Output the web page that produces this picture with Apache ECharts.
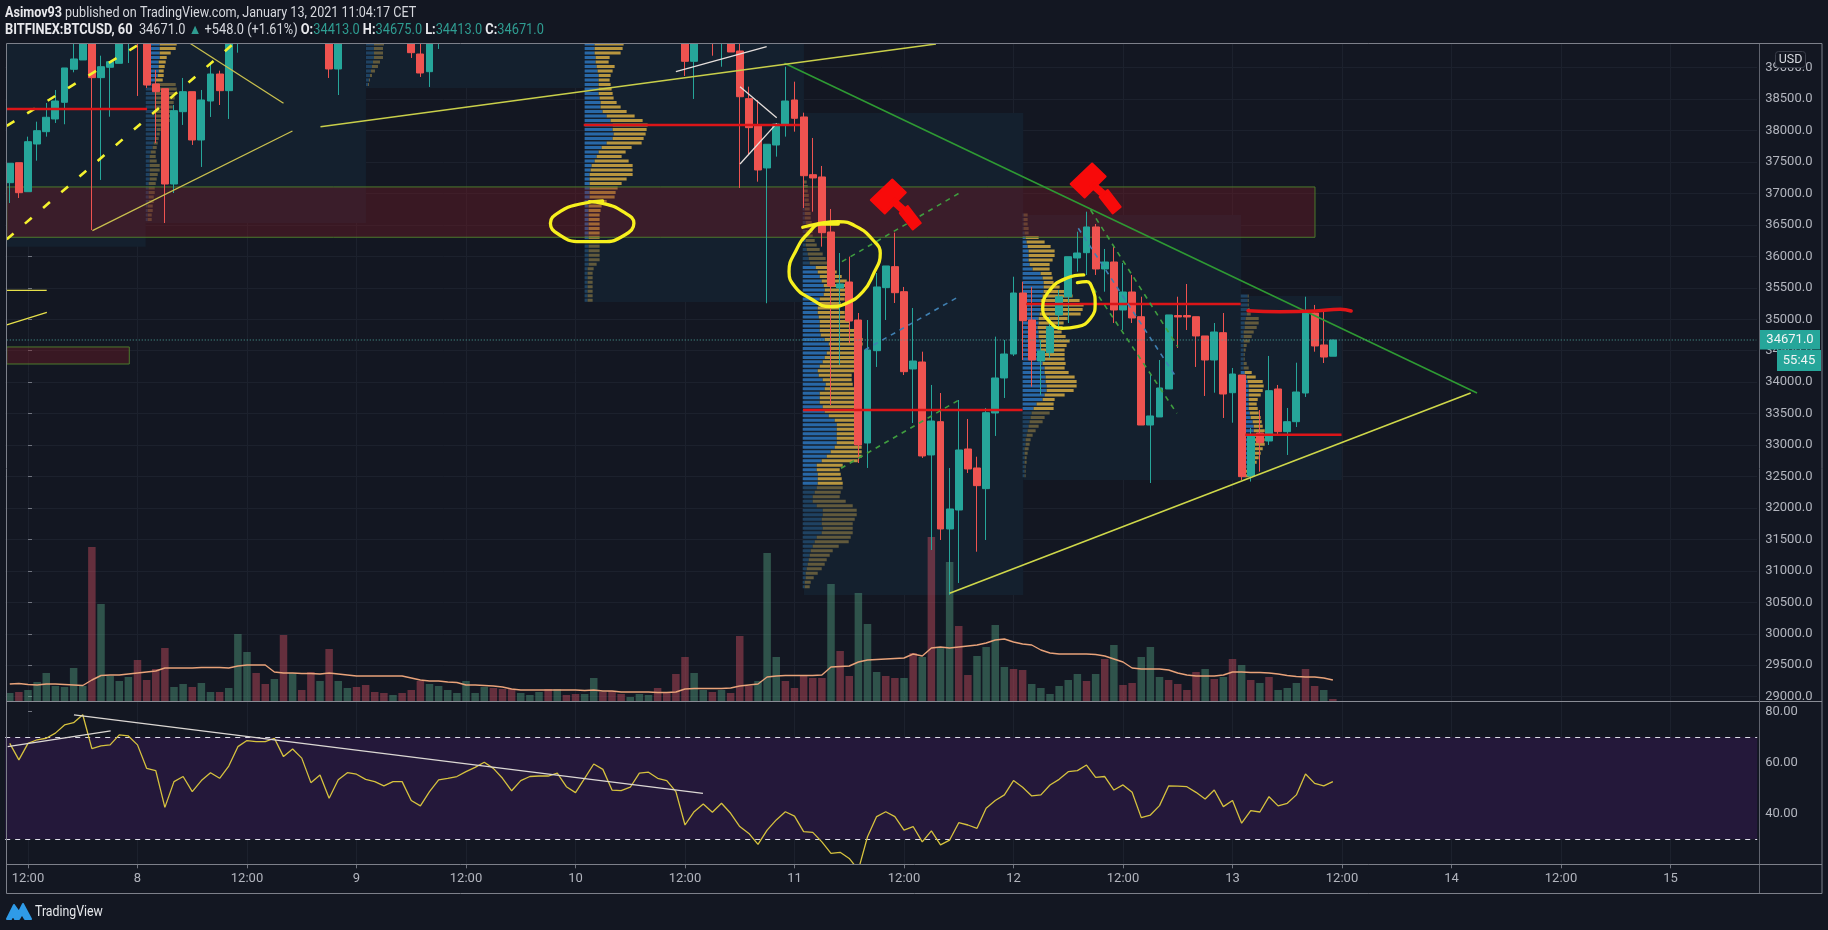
<!DOCTYPE html>
<html><head><meta charset="utf-8">
<style>html,body{margin:0;padding:0;background:#131722}#c{width:1828px;height:930px}</style>
<script src="https://cdn.jsdelivr.net/npm/echarts@6/dist/echarts.min.js"></script>
</head><body><div id="c"></div>
<script>
// ---- data ----
const firstHour = -2;           // hours relative to 7 Jan 12:00
const candles = [ // [open, close, low, high]
[37172,37481,36849,37481],[37490,37013,36929,37490],[37029,37824,37029,37904],[37787,37999,37522,38142],[37983,38212,37904,38439],[38185,38471,38121,38646],[38450,38996,38101,38996],[38975,39139,38927,39400],[39123,39600,39123,39700],[39600,38842,36420,39700],
[38842,39016,37215,39191],[39007,39096,38221,39096],[39070,39500,39070,39600],[39500,39900,39075,40000],[40100,39800,38551,40200],[39800,38725,38678,39900],[38741,38619,37803,38964],[38667,37151,36531,38667],[37151,38317,37008,38407],[38301,38619,38090,38837],
[38619,37851,37772,38619],[37851,38487,37422,38646],[38471,38900,38217,39075],[38900,38635,38407,38953],[38635,39500,38185,39600],[39500,39900,39239,40000],
[39520,39880,39430,39980],[39880,39700,39480,39960],[39700,39560,39440,39780],[39560,39790,39470,39860],[39790,39520,39440,39900],[39520,39750,39460,39810],[39750,39610,39500,39800],[39610,39480,39420,39700],[39480,39700,39430,39760],
[39700,38980,38837,39900],[38980,39600,38566,39800],
[39600,39900,39500,40000],[39900,39760,39600,40050],[39760,39600,39520,39850],[39600,39530,39450,39700],[39530,39720,39460,39800],[39720,39610,39500,39780],[39610,39800,39560,39880],
[39800,39239,39155,39900],[39218,38916,38853,39400],[38937,39500,38694,39600],[39500,39700,39298,39800],
[39700,39850,39600,39950],[39850,39980,39700,40060],[39980,40200,39880,40300],[40200,40120,39950,40350],[40120,40300,40030,40400],[40300,40180,40050,40420],[40180,40050,39900,40250],[40050,39920,39800,40150],[39920,40010,39830,40100],[40010,40080,39900,40180],[40080,40160,39980,40240],[40160,40060,39950,40220],[40060,40150,39960,40230],[40150,40020,39880,40200],[40020,39900,39780,40100],[39900,40050,39800,40120],[40050,40260,39960,40340],[40260,40160,40050,40320],[40160,40040,39900,40220],[40040,39950,39850,40120],[39950,40030,39870,40110],[40030,40090,39950,40170],[40090,40140,39990,40210],[40140,40020,39900,40200],[40020,39900,39780,40080],[39900,39620,39480,39980],
[39620,39102,38869,39700],[39102,39600,38503,39700],[39600,39800,39450,39900],[39800,39500,39191,39850],[39500,39650,39016,39700],[39650,39250,39250,39700],
[39266,38539,37088,39385],[38508,38047,37612,38699],[38089,37374,37188,38487],[37406,37783,35255,37783],[37771,38105,37586,38105],[38101,38471,37904,39016],[38487,38196,37983,38778],[38217,37283,36770,38285],[37299,37247,36711,37883],[37263,36377,36155,37438],
[36388,35530,33637,36754],[35498,35561,34273,36054],[35593,34973,34623,35996],[34989,33002,32715,35100],[33033,34512,32636,34989],[34501,35514,34242,35736],[35503,35848,34989,35848],[35837,35423,35259,36377],[35439,34167,34114,35514],[34210,34337,33351,35180],
[34321,32827,32795,34485],[32843,33383,31332,33956],[33372,31666,31491,33828],[31666,31984,30617,32636],[31968,32922,30807,33717],[32938,32620,32556,33415],[32636,32355,31305,32815],[32307,33515,31491,33590],[33510,34067,33145,34724],[34067,34448,33749,34671],
[34448,35418,34417,35677],[35418,34978,34353,35598],[34989,34353,33928,35514],[34337,34496,33796,34671],[34469,34882,34385,35041],[35069,35359,34830,35466],[35359,35995,34941,35995],[35975,36054,35757,36393],[36059,36468,35705,36711],[36468,35800,35705,36515],
[35800,35911,35439,36118],[35911,35148,34941,36155],[35148,35434,34830,35895],[35434,35021,34941,35705],[35041,33319,33319,35359],[33319,33463,32397,34114],[33447,33908,33447,34353],[33892,35069,33892,35069],[35060,35037,34544,35359],[35060,35037,34830,35561],
[35041,34735,34242,35041],[34735,34353,33781,34735],[34353,34798,33833,34941],[34787,33812,33431,35100],[33833,34130,33356,34226],[34114,32498,32445,34114],[32509,33149,32420,33272],[33192,33038,32577,33558],[33065,33865,33002,34417],[33892,33213,33160,33956],
[33213,33372,32843,33590],[33372,33844,33288,34310],[33828,35111,33765,35359],[35100,34576,34485,35228],[34592,34400,34305,35121],[34413,34671,34413,34675]];
const volumes = [8,9,11,19,28,15,14,33,15,154,97,25,20,24,41,21,32,53,14,17,14,18,9,9,13,67,49,28,17,22,66,28,11,29,20,52,20,13,14,16,9,8,6,8,11,20,17,15,11,8,20,8,14,13,12,12,8,6,9,12,12,6,7,7,23,9,10,7,4,7,6,13,9,27,44,28,11,9,11,8,65,15,20,148,44,20,13,
25,23,23,117,50,25,108,77,29,25,23,23,48,44,164,54,139,75,26,45,54,76,34,32,31,17,13,7,15,21,27,20,27,42,56,16,18,44,54,24,21,17,11,29,32,22,24,42,36,21,18,24,11,13,18,32,15,11,2];
const volumeDir = ('uduuuuuuu'+'duuuu'+'dddd'+'uu'+'d'+'uu'+'d'+'uuu'+'dd'+'u'+'d'+'u'+'dd'+'u'+'d'+'uu'+'dddd'+'u'+'ddd'+'uuuuuuu'+'ddd'+'uuu'+'d'+'u'+'dd'+'uu'+'ddd'+'uuu'+'dddd'+'uu'+'d'+'u'+'ddd'+'uuu'+'d'
  +'dddd'+'u'+'dd'+'uuu'+'dd'+'u'+'d'+'u'+'d'+'uu'+'dd'+'uuuu'+'dd'+'uuuuuu'+'d'+'u'+'d'+'u'+'dd'+'uuu'+'dddd'+'u'+'d'+'u'+'d'+'u'+'d'+'u'+'d'+'uuu'+'dd'+'u').split('');
const volumeMA = [17,17.5,16.5,16,17,17,16.5,16,15.5,21,25.5,26,26,27,28,29,30,33,33,33,33,33.5,33.5,33.5,33,35,36,36,36,29,28,28,27.5,27.5,27,28,27,26,25,25,25,25,25,25,23,21,20,20,19,18.5,16,16,15.5,15,14,12,11,11,11,11,11,11,11,10.5,11,10,10,9,9,9,9,8.5,8.5,9,12,12.5,12.5,12.5,12.5,13,15,16,17,24,25,25.5,25.5,
25.5,25.5,26,34,34.5,35,39,41,41.5,42,42.5,43,47,45,53,54,53,54,55,56,58,61,62,59,57,56,51,48,47,47,47,47,46.5,45,42,39,33,32,32,32,31,28,26,25,25,25,26,29,29,28.5,28.5,28,27,25.5,24.5,24,24,23,21];
const rsi = [67.6,61.1,67.6,69,69.6,71.6,74.8,75.7,78.8,65.5,66.6,67,70.9,70.5,67,57.8,56.9,42.5,52.6,54.6,48.7,53,56.1,53.9,58.7,66.3,68.7,68.3,68.3,69.6,62.4,65.4,61.8,52.2,55.2,46.1,53.3,56.1,55.5,53.5,52.6,50.9,52.6,52.6,45.2,43.1,48.7,53.3,53.9,54.6,56.5,58.2,60.2,57.8,53.9,49,53,54.6,54.8,54.8,55.9,50.6,48.3,53.9,59.5,57.4,49.3,49.1,50.4,55.9,56.3,53.9,53,48.7,35.6,40.8,43.8,40.6,44.1,40.2,35,32.3,28,33.6,37.6,40.8,39.1,
33,32.7,29,24.5,24.9,22.5,18,31,38.9,40.8,38.9,33.6,35,29,33.3,27.8,29.7,36.5,35.6,34.3,42.2,45.2,47.4,53,50.4,47,47.4,51.3,53.5,56.5,56.9,59.1,54.3,54.6,49.3,51.3,48.4,38.5,39.5,43.2,50.9,50.8,50.6,48.4,45.8,49.3,42.8,45.2,36.3,41.2,40.7,46.7,43.1,44.1,47.4,55.6,51.9,50.9,52.6];
const priceTicks = [29000,29500,30000,30500,31000,31500,32000,32500,33000,33500,34000,34500,35000,35500,36000,36500,37000,37500,38000,38500,39000];
const rsiTicks = [40,60,80];
const timeLabels = ['12:00','8','12:00','9','12:00','10','12:00','11','12:00','12','12:00','13','12:00','14','12:00','15'];

// volume profiles: row volumes, top row first
const profileRowStep = 71.5;
const profA = {t:12.9, top:39377, bright:[0,8],
 up:[14,14,14,14,13,13,13,12,10,9,9,9,9,9,9,9,9,10,10,11,11,10,8,7,5,4,4,4,4,4,4,3,3,3,3,3,2,2,2,2],
 total:[31,30,25,21,20,19,18,18,17,30,31,30,29,28,27,26,25,24,20,15,14,13,12,11,10,10,11,14,14,12,11,10,9,9,8,8,7,7,6,6]};
const profS = {t:37.04, top:39377, bright:[-1,-1],
 up:[8,8,8,8,7,6,5,4,3,2], total:[18,17,17,17,14,12,9,6,4,3]};
const profB = {t:61, top:39377, bright:[0,43],
 up:[10,10,10,11,11,12,13,14,14,14,14,14,15,16,16,18,22,26,28,28,29,28,22,17,14,12,10,7,6,5,5,5,5,5,5,5,4,4,4,4,4,4,4,4,4,4,4,4,4,4,3,3,3,3,3,3,3,3],
 total:[39,38,36,25,24,30,28,26,25,26,27,28,29,32,36,42,50,58,63,62,61,59,57,47,41,37,44,48,48,48,42,37,33,31,30,22,17,16,15,15,15,15,15,15,15,15,15,15,15,12,9,8,8,8,8,8,8,8]};
const profC = {t:84.9, top:37183, bright:[19,67],
 up:[1,1,1,1,2,2,2,2,2,3,3,3,3,3,3,4,5,6,7,13,15,17,19,21,22,21,17,15,15,15,16,17,17,17,18,22,26,27,24,22,20,17,15,16,20,23,22,17,17,17,20,22,26,32,34,34,34,34,34,32,28,24,19,14,14,15,15,15,14,12,10,10,14,20,20,19,19,20,19,14,12,10,8,7,6,5,4,3,3,2,2],
 total:[4,5,5,6,6,7,7,8,8,9,9,10,10,12,14,17,20,23,27,31,34,39,44,46,47,46,42,38,37,42,47,47,47,52,57,60,60,59,57,57,54,53,52,49,49,50,52,52,52,52,52,52,52,54,55,56,58,59,59,59,59,59,55,40,37,38,39,40,40,38,37,43,50,54,54,52,50,50,50,48,46,36,30,27,24,22,19,15,11,8,7]};
const profD = {t:109, top:36658, bright:[5,43],
 up:[1,1,1,1,2,3,4,5,6,6,6,7,10,18,20,21,21,21,20,18,18,18,17,16,16,15,16,16,17,17,18,18,18,20,22,22,23,23,24,24,22,20,14,11,9,8,7,6,5,4,3,3,2,2,2,2,2,2,2],
 total:[5,5,5,6,6,16,22,28,32,32,30,27,27,29,30,31,37,44,50,57,61,60,58,45,41,40,39,43,47,44,42,42,42,43,42,46,52,54,54,51,42,32,31,31,27,22,20,16,13,10,8,7,6,5,4,4,3,3,3]};
const profE = {t:132.9, top:35371, bright:[17,40],
 up:[7,7,7,7,6,5,4,4,3,3,3,3,3,3,3,3,3,4,6,7,8,8,8,8,8,8,9,10,12,13,13,13,12,11,10,9,8,7,6,5,4],
 total:[8,8,8,9,10,18,18,16,13,11,9,6,5,4,4,6,8,11,15,22,23,22,20,17,16,17,18,20,21,22,24,24,24,24,22,20,18,16,14,11,9]};
const profiles = [profA,profS,profB,profC,profD,profE];
const volumePerHour = 9.125;

// background boxes: [fromHour,toHour,topPrice,bottomPrice]
const profileBoxes = [[-2.33,12.9,39385,36154],[12.9,37.04,39385,36531],[37.04,61,39385,38678],[61,85.04,39385,35275],[85.04,109.07,38280,30616],[109.07,132.95,36658,32445],[132.95,143.98,35371,32445]];
const zones = [[-2.33,141.04,37104,36304],[-2.33,11.1,34560,34289]];

// drawn lines: [hour, price]
const greenTrend = [[82.9,39070],[158.8,33828]];
const yellowTrendLow = [[101,30644],[158.1,33828]];
const yellowTop = [[32.05,38063],[99.5,39377]];
const yellowRise = [[7.06,36409],[28.98,37994]];
const yellowFall = [[17.75,39388],[28,38434]];
const yellowStubFlat = [[-2.33,35460],[2.05,35460]];
const yellowStubRise = [[-2.33,34910],[2.07,35110]];
const yellowDashA = [[-2.33,38074],[12.34,39388]];
const yellowDashB = [[-2.33,36272],[22.36,39361]];
const whiteTop = [[71,38937],[80.95,39334]];
const whiteFall = [[78.03,38699],[82.05,38206]];
const whiteRise = [[78.03,37469],[82.05,38116]];
const redLines = [
 [[-2.33,38344],[13.05,38344]],[[60.9,38090],[84.6,38090]],[[84.93,33558],[108.99,33558]],
 [[109.4,35243],[132.9,35243]],[[133.4,33165],[143.95,33165]]];
const redHand = [[133.7,35137],[137.2,35121],[141.1,35132],[143.8,35159],[145,35132]];
const greenDashes = [[[89.2,35916],[102.03,37004]],[[89.1,32631],[101.9,33706]],[[116.45,36738],[126,34565]],[[116.75,35493],[125.9,33505]]];
const blueDashes = [[[91.7,34512],[102,35360]],[[115.1,36447],[125.9,34062]]];
const circle1 = [[62.98,36881],[60.5,36833],[58.3,36711],[57.25,36526],[58.1,36356],[60.5,36234],[63,36234],[65.4,36340],[66.4,36526],[65.2,36711],[62.98,36844],[61.5,36870]];
const circle2 = [[84.9,36463],[86.4,36515],[88.8,36552],[90.8,36473],[92.6,36261],[93.4,36049],[92.6,35705],[91.5,35439],[89.7,35255],[87.9,35201],[85.7,35334],[84.05,35518],[83.4,35757],[84.2,36102],[85.5,36368],[87,36515],[88.8,36515]];
const circle3 = [[115,35582],[116,35598],[116.7,35466],[116.95,35255],[116.45,35016],[115,34882],[113.3,34857],[111.8,34989],[111.2,35175],[112,35466],[113.8,35652],[115.7,35705]];
const hammers = [[95.1,36825],[117,37080]];
const lastPrice = 34671;
const rsiWhiteA = [[5.04,78.75],[73.97,48]];
const rsiWhiteB = [[-2.23,66.3],[9.06,72.5]];

// ---- chart ----
const UP='#26a69a',DOWN='#ef5350',GRID='#1c212d',AXIS='#70747f',TXT='#b2b5be',FONT="Roboto,sans-serif";
const L=5.19,W=1752,AX=-2.5,BX=189.5;
const cats=[];for(let i=0;i<192;i++)cats.push(String(i+firstHour));
const labelAt=i=>(i+firstHour)%12===0;
const chart=echarts.init(document.getElementById('c'),null,{renderer:'canvas'});

function overlay(pts,color,width,extra){
  return {type:'line',xAxisIndex:2,yAxisIndex:0,data:pts,showSymbol:false,symbol:'none',silent:true,z:6,animation:false,
    lineStyle:{color:color,width:width,type:(extra&&extra.dash)||'solid',cap:(extra&&extra.smooth)?'round':'butt'},smooth:(extra&&extra.smooth)?0.5:false};
}
function boxes(list,fill,stroke,z){
  return {type:'custom',xAxisIndex:2,yAxisIndex:0,data:list,silent:true,z:z,clip:true,animation:false,
    encode:{x:[0,1],y:[2,3]},
    renderItem:(p,api)=>{const a=api.coord([api.value(0),api.value(2)]),b=api.coord([api.value(1),api.value(3)]);
      return {type:'rect',shape:{x:a[0],y:a[1],width:b[0]-a[0],height:b[1]-a[1]},style:{fill:fill,stroke:stroke||null,lineWidth:stroke?1:0}};}};
}
const rows=[];
profiles.forEach(pr=>pr.total.forEach((v,i)=>rows.push([pr.t,pr.top-i*profileRowStep,pr.up[i],v,(i>=pr.bright[0]&&i<=pr.bright[1])?1:0])));
const profileSeries={type:'custom',xAxisIndex:2,yAxisIndex:0,data:rows,silent:true,z:3,clip:true,animation:false,
  encode:{x:0,y:1},
  renderItem:(p,api)=>{
    const t=api.value(0),pr=api.value(1),u=api.value(2),v=api.value(3),b=api.value(4);
    const a=api.coord([t,pr]),m=api.coord([t+u/volumePerHour,pr]),e=api.coord([t+v/volumePerHour,pr]);
    return {type:'group',children:[
      {type:'rect',shape:{x:a[0],y:a[1]-1.5,width:m[0]-a[0],height:3},style:{fill:b?'#2868a8':'#1f4262'}},
      {type:'rect',shape:{x:m[0],y:a[1]-1.5,width:e[0]-m[0],height:3},style:{fill:b?'#b8963f':'#625a3c'}}]};
  }};
const hammerPath='path://M0 41 L43 0 L70 26 L28 68 Z M40 46 L48 38 L70 58 L62 66 Z M58 67 L74 53 L100 87 L84 100 Z';
const yellowHand='#f7f01e';

const series=[
  boxes(profileBoxes,'#14202e',null,1),
  {type:'bar',xAxisIndex:0,yAxisIndex:1,barWidth:7.5,z:2,silent:true,animation:false,
   data:volumes.map((v,i)=>({value:v,itemStyle:{color:volumeDir[i]==='u'?'rgba(81,157,126,0.45)':'rgba(201,77,96,0.45)'}}))},
  {type:'line',xAxisIndex:0,yAxisIndex:1,data:volumeMA,showSymbol:false,symbol:'none',silent:true,z:5,animation:false,lineStyle:{color:'#e9a37a',width:1.4}},
  profileSeries,
  boxes(zones,'rgba(120,26,38,0.38)','#4d7a2c',4),
  {type:'candlestick',xAxisIndex:0,yAxisIndex:0,data:candles,barWidth:7.3,z:5,silent:true,animation:false,clip:true,
   itemStyle:{color:UP,color0:DOWN,borderColor:UP,borderColor0:DOWN,borderWidth:1}},
  overlay(greenTrend,'#2e9a33',1.6),
  overlay(yellowTrendLow,'#cfd84a',1.6),
  overlay(yellowTop,'#c9cf4a',1.5),
  overlay(yellowRise,'#c9c04e',1.3),
  overlay(yellowFall,'#c9c04e',1.3),
  overlay(yellowStubFlat,'#e6e04a',1.3),
  overlay(yellowStubRise,'#e6e04a',1.3),
  overlay(yellowDashA,'#f4f22e',2.6,{dash:[9,15]}),
  overlay(yellowDashB,'#f4f22e',2.6,{dash:[9,15]}),
  overlay(whiteTop,'#e6dfdc',1.3),
  overlay(whiteFall,'#e6dfdc',1.3),
  overlay(whiteRise,'#e6dfdc',1.3),
  overlay([[-2.33,lastPrice],[189.4,lastPrice]],'#4fa79c',1,{dash:[1,2]}),
  ...redLines.map(l=>overlay(l,'#dc1518',2.5)),
  ...greenDashes.map(l=>overlay(l,'#3f9d3f',1.6,{dash:[5,5]})),
  ...blueDashes.map(l=>overlay(l,'#3f7fb0',1.6,{dash:[5,5]})),
  overlay(redHand,'#e01518',3.5,{smooth:true}),
  overlay(circle1,yellowHand,3.3,{smooth:true}),
  overlay(circle2,yellowHand,3.3,{smooth:true}),
  overlay(circle3,yellowHand,3.3,{smooth:true}),
  {type:'scatter',xAxisIndex:2,yAxisIndex:0,data:hammers,symbol:hammerPath,symbolSize:[50,50],silent:true,z:7,animation:false,
   itemStyle:{color:'#f80a0a',opacity:1,borderColor:'#f80a0a',borderWidth:2,borderJoin:'round'}},
  {type:'line',xAxisIndex:1,yAxisIndex:2,data:rsi,showSymbol:false,symbol:'none',silent:true,z:5,animation:false,lineStyle:{color:'#d6c23e',width:1.3},
   markArea:{silent:true,itemStyle:{color:'#24183a'},data:[[{yAxis:70},{yAxis:30}]]},
   markLine:{silent:true,symbol:'none',label:{show:false},lineStyle:{color:'#dcdce6',type:[5,5],width:1.2},data:[{yAxis:70},{yAxis:30}]}},
  {type:'line',xAxisIndex:3,yAxisIndex:2,data:rsiWhiteA,showSymbol:false,symbol:'none',silent:true,z:6,animation:false,lineStyle:{color:'#dcd8d4',width:1.4}},
  {type:'line',xAxisIndex:3,yAxisIndex:2,data:rsiWhiteB,showSymbol:false,symbol:'none',silent:true,z:6,animation:false,lineStyle:{color:'#dcd8d4',width:1.4}}
];

const tealT='#2f9c91';
const RB={color:'#e8e8ec',fill:'#e8e8ec',fontWeight:'bold',fontSize:14,fontFamily:FONT};
const RN={color:'#d6d8de',fill:'#d6d8de',fontSize:14,fontFamily:FONT};
const RT={color:tealT,fill:tealT,fontSize:14,fontFamily:FONT};
const graphic=[
 {type:'rect',z:40,silent:true,shape:{x:0,y:0,width:1828,height:43},style:{fill:'#131722'}},
 {type:'rect',z:50,silent:true,shape:{x:6.5,y:43.5,width:1815.5,height:850},style:{fill:'none',stroke:'#7d808a',lineWidth:1}},
 {type:'line',z:50,silent:true,shape:{x1:6.5,y1:701.5,x2:1822,y2:701.5},style:{stroke:'#8a8d96',lineWidth:1.2}},
 {type:'line',z:50,silent:true,shape:{x1:1759.5,y1:44,x2:1759.5,y2:893},style:{stroke:'#5f636e',lineWidth:1}},
 {type:'line',z:50,silent:true,shape:{x1:6.5,y1:864.5,x2:1822,y2:864.5},style:{stroke:'#7d808a',lineWidth:1}},
 {type:'text',z:60,x:5,y:6,scaleX:0.9,silent:true,style:{text:'{b|Asimov93} {n|published on TradingView.com, January 13, 2021 11:04:17 CET}',rich:{b:RB,n:RN}}},
 {type:'text',z:60,x:5,y:23,scaleX:0.915,silent:true,style:{text:'{b|BITFINEX:BTCUSD, 60}{n|  34671.0 }{t|▲}{n| +548.0 (+1.61%) }{b|O:}{t|34413.0} {b|H:}{t|34675.0} {b|L:}{t|34413.0} {b|C:}{t|34671.0}',rich:{b:RB,n:RN,t:RT}}},
 {type:'rect',z:60,silent:true,shape:{x:1775.5,y:51.5,width:30,height:16,r:3},style:{fill:'#131722',stroke:'#3a3e4a',lineWidth:1}},
 {type:'text',z:61,silent:true,x:1790.5,y:59.5,style:{text:'USD',fill:'#d6d8de',font:"12.5px "+FONT,textAlign:'center',textVerticalAlign:'middle'}},
 {type:'rect',z:60,silent:true,shape:{x:1760,y:330,width:60,height:19.5},style:{fill:'#26a69a'}},
 {type:'text',z:61,silent:true,x:1790,y:340,style:{text:'34671.0',fill:'#f2f5f5',font:"13px "+FONT,textAlign:'center',textVerticalAlign:'middle'}},
 {type:'rect',z:60,silent:true,shape:{x:1777,y:350,width:44,height:21},style:{fill:'#26a69a'}},
 {type:'text',z:61,silent:true,x:1799,y:361,style:{text:'55:45',fill:'#f2f5f5',font:"13px "+FONT,textAlign:'center',textVerticalAlign:'middle'}},
 {type:'polygon',z:60,silent:true,shape:{points:[[7,919],[14,905],[19,912],[23,904],[31,919],[25,919],[22,914],[19,919],[15,919],[13,915],[11,919]]},style:{fill:'#2f9be8',stroke:'#2f9be8',lineWidth:2,lineJoin:'round'}},
 {type:'text',z:60,silent:true,x:35,y:912,scaleX:0.88,style:{text:'TradingView',fill:'#e6e8ec',font:"14px "+FONT,textVerticalAlign:'middle'}}
];

const xCat=(grid,showLabels)=>({type:'category',gridIndex:grid,data:cats,boundaryGap:true,
  axisLine:{show:false},
  axisTick:{show:showLabels,alignWithLabel:true,interval:i=>labelAt(i),length:4,lineStyle:{color:AXIS}},
  axisLabel:{show:showLabels,interval:i=>labelAt(i),color:TXT,fontSize:13,fontFamily:FONT,margin:8,
    formatter:(v,i)=>timeLabels[(i+firstHour)/12]},
  splitLine:{show:true,alignWithLabel:true,interval:i=>labelAt(i),lineStyle:{color:GRID,width:1}}});
const xVal=grid=>({type:'value',gridIndex:grid,min:AX,max:BX,show:false,splitLine:{show:false}});

chart.setOption({
  animation:false,backgroundColor:'#131722',
  grid:[{left:L,top:43.5,width:W,height:657.5},{left:L,top:702,width:W,height:162.3}],
  xAxis:[xCat(0,false),xCat(1,true),xVal(0),xVal(1)],
  yAxis:[
   {type:'value',gridIndex:0,position:'right',offset:2,min:28931,max:39385,scale:true,
    axisLine:{show:false},
    axisTick:{show:true,length:4,lineStyle:{color:AXIS},customValues:priceTicks},
    axisLabel:{color:TXT,fontSize:13,fontFamily:FONT,margin:6,customValues:priceTicks,formatter:v=>v.toFixed(1)},
    splitLine:{show:true,lineStyle:{color:GRID,width:1}}},
   {type:'value',gridIndex:0,min:0,max:657.5,show:false,splitLine:{show:false}},
   {type:'value',gridIndex:1,position:'right',offset:2,min:20.2,max:83.8,scale:true,
    axisLine:{show:false},
    axisTick:{show:true,length:4,lineStyle:{color:AXIS},customValues:rsiTicks},
    axisLabel:{color:TXT,fontSize:13,fontFamily:FONT,margin:6,customValues:rsiTicks,formatter:v=>v.toFixed(2)},
    splitLine:{show:false}}
  ],
  series:series,graphic:graphic
});
</script></body></html>
